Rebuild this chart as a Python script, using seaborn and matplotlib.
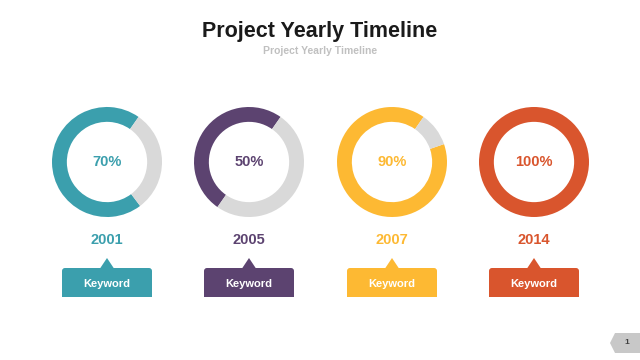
import matplotlib
matplotlib.use("Agg")
import matplotlib.pyplot as plt
import seaborn as sns
from matplotlib.patches import FancyBboxPatch, Rectangle, Polygon

# data
years = ["2001", "2005", "2007", "2014"]
percents = [70, 50, 90, 100]
keywords = ["Keyword", "Keyword", "Keyword", "Keyword"]
title = "Project Yearly Timeline"
subtitle = "Project Yearly Timeline"
page_no = "1"

# style
colors = ["#3b9fad", "#5c4370", "#fdb933", "#d9552d"]
ring_gray = "#d9d9d9"
centers_x = [107, 249, 392, 534]
center_y = 162
radius = 55

sns.set_theme(style="white")
plt.rcParams['font.family'] = ['Liberation Sans', 'DejaVu Sans']

fig = plt.figure(figsize=(6.4, 3.6), dpi=100)
fig.patch.set_facecolor("white")

# background axes in pixel coords
bg = fig.add_axes([0, 0, 1, 1])
bg.set_xlim(0, 640)
bg.set_ylim(360, 0)
bg.axis("off")

bg.text(320, 31, title, ha="center", va="center", fontsize=15.5,
        fontweight="bold", color="#1a1a1a")
bg.text(320, 51, subtitle, ha="center", va="center", fontsize=7.5,
        fontweight="bold", color="#c0c0c0")

for i, (yr, pct, kw) in enumerate(zip(years, percents, keywords)):
    cx = centers_x[i]
    col = colors[i]
    # donut
    ax = fig.add_axes([(cx - radius) / 640, (360 - center_y - radius) / 360,
                       2 * radius / 640, 2 * radius / 360])
    vals = [pct, 100 - pct] if pct < 100 else [100]
    cols = [col, ring_gray] if pct < 100 else [col]
    ax.pie(vals, colors=cols, startangle=55, counterclock=True,
           radius=1, wedgeprops=dict(width=0.27, edgecolor="none"))
    ax.set_xlim(-1, 1)
    ax.set_ylim(-1, 1)
    ax.set_aspect("equal")
    ax.axis("off")

    bg.text(cx, center_y, f"{pct}%", ha="center", va="center",
            fontsize=10.5, fontweight="bold", color=col)
    bg.text(cx, 240, yr, ha="center", va="center",
            fontsize=10.5, fontweight="bold", color=col)

    # keyword callout box
    bw, top, bot = 90, 268, 297
    bg.add_patch(FancyBboxPatch((cx - bw / 2 + 3, top + 3), bw - 6, bot - top - 6,
                                boxstyle="round,pad=3", facecolor=col,
                                edgecolor="none"))
    bg.add_patch(Rectangle((cx - bw / 2, top + 12), bw, bot - top - 12,
                           facecolor=col, edgecolor="none"))
    bg.add_patch(Polygon([(cx - 7, top + 0.5), (cx + 7, top + 0.5), (cx, 258)],
                         closed=True, facecolor=col, edgecolor="none"))
    bg.text(cx, 284, kw, ha="center", va="center",
            fontsize=8, fontweight="bold", color="white")

# page number badge
bg.add_patch(Polygon([(640, 333), (615, 333), (610, 343), (615, 353), (640, 353)],
                     closed=True, facecolor="#c8c8c8", edgecolor="none"))
bg.text(627, 343, page_no, ha="center", va="center", fontsize=6,
        fontweight="bold", color="#404040")

fig.savefig("out.png", dpi=100, facecolor="white")
